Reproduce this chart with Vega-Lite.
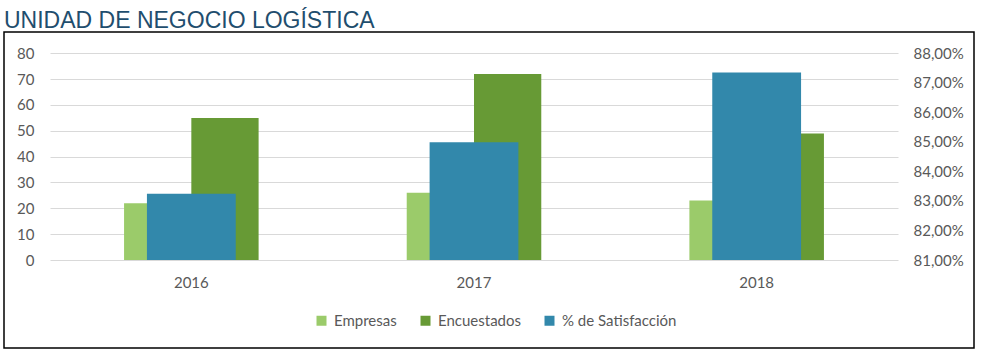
{
  "$schema": "https://vega.github.io/schema/vega-lite/v6.json",
  "autosize": "none",
  "padding": {"left": 4, "top": 32, "right": 9, "bottom": 5},
  "width": 970,
  "height": 316,
  "title": {
    "text": "UNIDAD DE NEGOCIO LOGÍSTICA",
    "anchor": "start",
    "frame": "group",
    "font": "Liberation Sans",
    "fontSize": 23,
    "fontWeight": "normal",
    "color": "#1F4E6E",
    "baseline": "alphabetic",
    "offset": 5,
    "dy": 24
  },
  "config": {
    "view": {"stroke": "#000000", "strokeWidth": 1.5},
    "locale": {"number": {"decimal": ",", "thousands": ".", "grouping": [3], "currency": ["", " €"]}},
    "axis": {"labelFont": "Lato", "labelFontSize": 15, "labelColor": "#595959", "ticks": false, "domain": false, "title": null}
  },
  "data": {
    "values": [
      {"year": "2016", "series": "Empresas", "value": 22},
      {"year": "2016", "series": "Encuestados", "value": 55},
      {"year": "2016", "series": "% de Satisfacción", "value": 0.8324},
      {"year": "2017", "series": "Empresas", "value": 26},
      {"year": "2017", "series": "Encuestados", "value": 72},
      {"year": "2017", "series": "% de Satisfacción", "value": 0.8499},
      {"year": "2018", "series": "Empresas", "value": 23},
      {"year": "2018", "series": "Encuestados", "value": 49},
      {"year": "2018", "series": "% de Satisfacción", "value": 0.8735}
    ]
  },
  "layer": [
    {
      "transform": [{"filter": "datum.series !== '% de Satisfacción'"}],
      "mark": {"type": "bar"},
      "encoding": {
        "x": {
          "field": "year", "type": "nominal",
          "scale": {"range": [46, 894], "paddingInner": 0.524, "paddingOuter": 0.262},
          "axis": {"orient": "bottom", "offset": -88, "labelPadding": 15, "labelAngle": 0, "grid": false}
        },
        "xOffset": {
          "field": "series", "type": "nominal",
          "scale": {"domain": ["Empresas", "Encuestados"], "paddingInner": 0, "paddingOuter": 0}
        },
        "y": {
          "field": "value", "type": "quantitative",
          "scale": {"domain": [0, 80], "range": [228, 21.3], "nice": false},
          "axis": {"orient": "left", "offset": -30, "labelPadding": 0, "values": [0, 10, 20, 30, 40, 50, 60, 70, 80], "grid": true, "gridColor": "#D9D9D9", "gridWidth": 1}
        },
        "color": {
          "field": "series", "type": "nominal",
          "scale": {"domain": ["Empresas", "Encuestados", "% de Satisfacción"], "range": ["#9BCB6A", "#679A35", "#3288AB"]},
          "legend": {
            "title": null, "orient": "none", "legendX": 310, "legendY": 281,
            "direction": "horizontal", "symbolType": "square", "symbolSize": 100,
            "symbolStrokeWidth": 0, "labelFont": "Lato", "labelFontSize": 15,
            "labelColor": "#595959", "labelOffset": 5, "columnPadding": 21
          }
        }
      }
    },
    {
      "transform": [{"filter": "datum.series === '% de Satisfacción'"}],
      "mark": {"type": "bar", "width": {"band": 0.66}},
      "encoding": {
        "x": {"field": "year", "type": "nominal"},
        "y": {
          "field": "value", "type": "quantitative",
          "scale": {"domain": [0.81, 0.88], "range": [228, 21.3], "zero": false, "nice": false},
          "axis": {"orient": "right", "offset": -61, "labelPadding": 0, "format": ".2%", "values": [0.81, 0.82, 0.83, 0.84, 0.85, 0.86, 0.87, 0.88], "grid": false}
        },
        "y2": {"datum": 0.81},
        "color": {"field": "series", "type": "nominal"}
      }
    }
  ],
  "resolve": {"scale": {"y": "independent"}}
}
